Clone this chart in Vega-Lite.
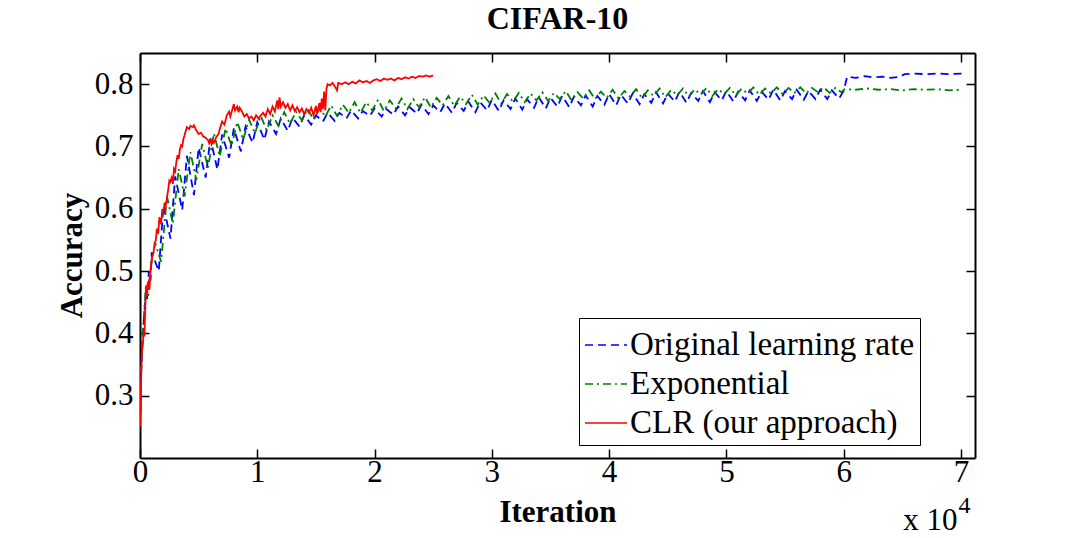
{
  "$schema": "https://vega.github.io/schema/vega-lite/v6.json",
  "autosize": {"type": "none"},
  "padding": {"left": 140, "top": 53, "right": 104, "bottom": 80},
  "width": 835,
  "height": 405,
  "title": {"text": "CIFAR-10", "font": "Liberation Serif", "fontSize": 32, "fontWeight": "bold", "color": "black", "anchor": "middle", "offset": 16},
  "config": {
    "view": {"stroke": null},
    "axis": {"domainColor": "black", "domainWidth": 2, "tickColor": "black", "tickWidth": 1.5, "tickSize": -9, "grid": false, "labelFlush": false,
      "labelFont": "Liberation Serif", "labelFontSize": 31, "labelColor": "black",
      "titleFont": "Liberation Serif", "titleFontSize": 31, "titleFontWeight": "bold", "titleColor": "black"}
  },
  "datasets": {
    "runs": [
      {"method": "Original learning rate", "iter": 0, "acc": 0.25},
      {"method": "Original learning rate", "iter": 100, "acc": 0.34},
      {"method": "Original learning rate", "iter": 250, "acc": 0.40},
      {"method": "Original learning rate", "iter": 400, "acc": 0.44},
      {"method": "Original learning rate", "iter": 500, "acc": 0.47},
      {"method": "Original learning rate", "iter": 600, "acc": 0.455},
      {"method": "Original learning rate", "iter": 750, "acc": 0.50},
      {"method": "Original learning rate", "iter": 900, "acc": 0.485},
      {"method": "Original learning rate", "iter": 1000, "acc": 0.530},
      {"method": "Original learning rate", "iter": 1600, "acc": 0.500},
      {"method": "Original learning rate", "iter": 2000, "acc": 0.605},
      {"method": "Original learning rate", "iter": 2600, "acc": 0.552},
      {"method": "Original learning rate", "iter": 3000, "acc": 0.652},
      {"method": "Original learning rate", "iter": 3600, "acc": 0.598},
      {"method": "Original learning rate", "iter": 4000, "acc": 0.685},
      {"method": "Original learning rate", "iter": 4600, "acc": 0.622},
      {"method": "Original learning rate", "iter": 5000, "acc": 0.698},
      {"method": "Original learning rate", "iter": 5600, "acc": 0.650},
      {"method": "Original learning rate", "iter": 6000, "acc": 0.713},
      {"method": "Original learning rate", "iter": 6600, "acc": 0.663},
      {"method": "Original learning rate", "iter": 7000, "acc": 0.719},
      {"method": "Original learning rate", "iter": 7600, "acc": 0.682},
      {"method": "Original learning rate", "iter": 8000, "acc": 0.729},
      {"method": "Original learning rate", "iter": 8600, "acc": 0.692},
      {"method": "Original learning rate", "iter": 9000, "acc": 0.732},
      {"method": "Original learning rate", "iter": 9600, "acc": 0.706},
      {"method": "Original learning rate", "iter": 10000, "acc": 0.739},
      {"method": "Original learning rate", "iter": 10600, "acc": 0.711},
      {"method": "Original learning rate", "iter": 11000, "acc": 0.740},
      {"method": "Original learning rate", "iter": 11600, "acc": 0.720},
      {"method": "Original learning rate", "iter": 12000, "acc": 0.745},
      {"method": "Original learning rate", "iter": 12600, "acc": 0.725},
      {"method": "Original learning rate", "iter": 13000, "acc": 0.746},
      {"method": "Original learning rate", "iter": 13600, "acc": 0.732},
      {"method": "Original learning rate", "iter": 14000, "acc": 0.750},
      {"method": "Original learning rate", "iter": 14600, "acc": 0.735},
      {"method": "Original learning rate", "iter": 15000, "acc": 0.750},
      {"method": "Original learning rate", "iter": 15600, "acc": 0.740},
      {"method": "Original learning rate", "iter": 16000, "acc": 0.754},
      {"method": "Original learning rate", "iter": 16600, "acc": 0.741},
      {"method": "Original learning rate", "iter": 17000, "acc": 0.754},
      {"method": "Original learning rate", "iter": 17600, "acc": 0.745},
      {"method": "Original learning rate", "iter": 18000, "acc": 0.758},
      {"method": "Original learning rate", "iter": 18600, "acc": 0.745},
      {"method": "Original learning rate", "iter": 19000, "acc": 0.757},
      {"method": "Original learning rate", "iter": 19600, "acc": 0.749},
      {"method": "Original learning rate", "iter": 20000, "acc": 0.761},
      {"method": "Original learning rate", "iter": 20600, "acc": 0.748},
      {"method": "Original learning rate", "iter": 21000, "acc": 0.760},
      {"method": "Original learning rate", "iter": 21600, "acc": 0.751},
      {"method": "Original learning rate", "iter": 22000, "acc": 0.764},
      {"method": "Original learning rate", "iter": 22600, "acc": 0.750},
      {"method": "Original learning rate", "iter": 23000, "acc": 0.763},
      {"method": "Original learning rate", "iter": 23600, "acc": 0.753},
      {"method": "Original learning rate", "iter": 24000, "acc": 0.767},
      {"method": "Original learning rate", "iter": 24600, "acc": 0.752},
      {"method": "Original learning rate", "iter": 25000, "acc": 0.766},
      {"method": "Original learning rate", "iter": 25600, "acc": 0.755},
      {"method": "Original learning rate", "iter": 26000, "acc": 0.769},
      {"method": "Original learning rate", "iter": 26600, "acc": 0.754},
      {"method": "Original learning rate", "iter": 27000, "acc": 0.770},
      {"method": "Original learning rate", "iter": 27600, "acc": 0.757},
      {"method": "Original learning rate", "iter": 28000, "acc": 0.772},
      {"method": "Original learning rate", "iter": 28600, "acc": 0.755},
      {"method": "Original learning rate", "iter": 29000, "acc": 0.771},
      {"method": "Original learning rate", "iter": 29600, "acc": 0.758},
      {"method": "Original learning rate", "iter": 30000, "acc": 0.775},
      {"method": "Original learning rate", "iter": 30600, "acc": 0.757},
      {"method": "Original learning rate", "iter": 31000, "acc": 0.774},
      {"method": "Original learning rate", "iter": 31600, "acc": 0.760},
      {"method": "Original learning rate", "iter": 32000, "acc": 0.777},
      {"method": "Original learning rate", "iter": 32600, "acc": 0.759},
      {"method": "Original learning rate", "iter": 33000, "acc": 0.776},
      {"method": "Original learning rate", "iter": 33600, "acc": 0.762},
      {"method": "Original learning rate", "iter": 34000, "acc": 0.779},
      {"method": "Original learning rate", "iter": 34600, "acc": 0.761},
      {"method": "Original learning rate", "iter": 35000, "acc": 0.778},
      {"method": "Original learning rate", "iter": 35600, "acc": 0.764},
      {"method": "Original learning rate", "iter": 36000, "acc": 0.781},
      {"method": "Original learning rate", "iter": 36600, "acc": 0.763},
      {"method": "Original learning rate", "iter": 37000, "acc": 0.780},
      {"method": "Original learning rate", "iter": 37600, "acc": 0.766},
      {"method": "Original learning rate", "iter": 38000, "acc": 0.782},
      {"method": "Original learning rate", "iter": 38600, "acc": 0.764},
      {"method": "Original learning rate", "iter": 39000, "acc": 0.781},
      {"method": "Original learning rate", "iter": 39600, "acc": 0.767},
      {"method": "Original learning rate", "iter": 40000, "acc": 0.784},
      {"method": "Original learning rate", "iter": 40600, "acc": 0.766},
      {"method": "Original learning rate", "iter": 41000, "acc": 0.783},
      {"method": "Original learning rate", "iter": 41600, "acc": 0.769},
      {"method": "Original learning rate", "iter": 42000, "acc": 0.785},
      {"method": "Original learning rate", "iter": 42600, "acc": 0.768},
      {"method": "Original learning rate", "iter": 43000, "acc": 0.784},
      {"method": "Original learning rate", "iter": 43600, "acc": 0.770},
      {"method": "Original learning rate", "iter": 44000, "acc": 0.787},
      {"method": "Original learning rate", "iter": 44600, "acc": 0.769},
      {"method": "Original learning rate", "iter": 45000, "acc": 0.785},
      {"method": "Original learning rate", "iter": 45600, "acc": 0.772},
      {"method": "Original learning rate", "iter": 46000, "acc": 0.788},
      {"method": "Original learning rate", "iter": 46600, "acc": 0.770},
      {"method": "Original learning rate", "iter": 47000, "acc": 0.786},
      {"method": "Original learning rate", "iter": 47600, "acc": 0.773},
      {"method": "Original learning rate", "iter": 48000, "acc": 0.789},
      {"method": "Original learning rate", "iter": 48600, "acc": 0.771},
      {"method": "Original learning rate", "iter": 49000, "acc": 0.787},
      {"method": "Original learning rate", "iter": 49600, "acc": 0.774},
      {"method": "Original learning rate", "iter": 50000, "acc": 0.789},
      {"method": "Original learning rate", "iter": 50600, "acc": 0.772},
      {"method": "Original learning rate", "iter": 51000, "acc": 0.788},
      {"method": "Original learning rate", "iter": 51600, "acc": 0.774},
      {"method": "Original learning rate", "iter": 52000, "acc": 0.790},
      {"method": "Original learning rate", "iter": 52600, "acc": 0.773},
      {"method": "Original learning rate", "iter": 53000, "acc": 0.788},
      {"method": "Original learning rate", "iter": 53600, "acc": 0.775},
      {"method": "Original learning rate", "iter": 54000, "acc": 0.791},
      {"method": "Original learning rate", "iter": 54600, "acc": 0.774},
      {"method": "Original learning rate", "iter": 55000, "acc": 0.789},
      {"method": "Original learning rate", "iter": 55600, "acc": 0.776},
      {"method": "Original learning rate", "iter": 56000, "acc": 0.791},
      {"method": "Original learning rate", "iter": 56600, "acc": 0.775},
      {"method": "Original learning rate", "iter": 57000, "acc": 0.789},
      {"method": "Original learning rate", "iter": 57600, "acc": 0.776},
      {"method": "Original learning rate", "iter": 58000, "acc": 0.791},
      {"method": "Original learning rate", "iter": 58600, "acc": 0.776},
      {"method": "Original learning rate", "iter": 59000, "acc": 0.790},
      {"method": "Original learning rate", "iter": 59600, "acc": 0.777},
      {"method": "Original learning rate", "iter": 60000, "acc": 0.789},
      {"method": "Original learning rate", "iter": 60300, "acc": 0.812},
      {"method": "Original learning rate", "iter": 61000, "acc": 0.810},
      {"method": "Original learning rate", "iter": 61800, "acc": 0.813},
      {"method": "Original learning rate", "iter": 62500, "acc": 0.811},
      {"method": "Original learning rate", "iter": 63300, "acc": 0.812},
      {"method": "Original learning rate", "iter": 64000, "acc": 0.810},
      {"method": "Original learning rate", "iter": 64800, "acc": 0.812},
      {"method": "Original learning rate", "iter": 65200, "acc": 0.816},
      {"method": "Original learning rate", "iter": 66000, "acc": 0.817},
      {"method": "Original learning rate", "iter": 67000, "acc": 0.816},
      {"method": "Original learning rate", "iter": 68000, "acc": 0.817},
      {"method": "Original learning rate", "iter": 69000, "acc": 0.816},
      {"method": "Original learning rate", "iter": 70100, "acc": 0.817},
      {"method": "Exponential", "iter": 0, "acc": 0.25},
      {"method": "Exponential", "iter": 100, "acc": 0.34},
      {"method": "Exponential", "iter": 250, "acc": 0.405},
      {"method": "Exponential", "iter": 500, "acc": 0.475},
      {"method": "Exponential", "iter": 700, "acc": 0.46},
      {"method": "Exponential", "iter": 900, "acc": 0.505},
      {"method": "Exponential", "iter": 1300, "acc": 0.545},
      {"method": "Exponential", "iter": 1800, "acc": 0.515},
      {"method": "Exponential", "iter": 2300, "acc": 0.620},
      {"method": "Exponential", "iter": 2800, "acc": 0.576},
      {"method": "Exponential", "iter": 3300, "acc": 0.664},
      {"method": "Exponential", "iter": 3800, "acc": 0.620},
      {"method": "Exponential", "iter": 4300, "acc": 0.691},
      {"method": "Exponential", "iter": 4800, "acc": 0.646},
      {"method": "Exponential", "iter": 5300, "acc": 0.704},
      {"method": "Exponential", "iter": 5800, "acc": 0.666},
      {"method": "Exponential", "iter": 6300, "acc": 0.721},
      {"method": "Exponential", "iter": 6800, "acc": 0.684},
      {"method": "Exponential", "iter": 7300, "acc": 0.729},
      {"method": "Exponential", "iter": 7800, "acc": 0.701},
      {"method": "Exponential", "iter": 8300, "acc": 0.739},
      {"method": "Exponential", "iter": 8800, "acc": 0.711},
      {"method": "Exponential", "iter": 9300, "acc": 0.743},
      {"method": "Exponential", "iter": 9800, "acc": 0.721},
      {"method": "Exponential", "iter": 10300, "acc": 0.749},
      {"method": "Exponential", "iter": 10800, "acc": 0.726},
      {"method": "Exponential", "iter": 11300, "acc": 0.750},
      {"method": "Exponential", "iter": 11800, "acc": 0.733},
      {"method": "Exponential", "iter": 12300, "acc": 0.755},
      {"method": "Exponential", "iter": 12800, "acc": 0.736},
      {"method": "Exponential", "iter": 13300, "acc": 0.756},
      {"method": "Exponential", "iter": 13800, "acc": 0.742},
      {"method": "Exponential", "iter": 14300, "acc": 0.760},
      {"method": "Exponential", "iter": 14800, "acc": 0.743},
      {"method": "Exponential", "iter": 15300, "acc": 0.761},
      {"method": "Exponential", "iter": 15800, "acc": 0.748},
      {"method": "Exponential", "iter": 16300, "acc": 0.766},
      {"method": "Exponential", "iter": 16800, "acc": 0.749},
      {"method": "Exponential", "iter": 17300, "acc": 0.767},
      {"method": "Exponential", "iter": 17800, "acc": 0.754},
      {"method": "Exponential", "iter": 18300, "acc": 0.771},
      {"method": "Exponential", "iter": 18800, "acc": 0.754},
      {"method": "Exponential", "iter": 19300, "acc": 0.771},
      {"method": "Exponential", "iter": 19800, "acc": 0.758},
      {"method": "Exponential", "iter": 20300, "acc": 0.775},
      {"method": "Exponential", "iter": 20800, "acc": 0.757},
      {"method": "Exponential", "iter": 21300, "acc": 0.774},
      {"method": "Exponential", "iter": 21800, "acc": 0.761},
      {"method": "Exponential", "iter": 22300, "acc": 0.777},
      {"method": "Exponential", "iter": 22800, "acc": 0.760},
      {"method": "Exponential", "iter": 23300, "acc": 0.776},
      {"method": "Exponential", "iter": 23800, "acc": 0.763},
      {"method": "Exponential", "iter": 24300, "acc": 0.779},
      {"method": "Exponential", "iter": 24800, "acc": 0.763},
      {"method": "Exponential", "iter": 25300, "acc": 0.778},
      {"method": "Exponential", "iter": 25800, "acc": 0.766},
      {"method": "Exponential", "iter": 26300, "acc": 0.781},
      {"method": "Exponential", "iter": 26800, "acc": 0.765},
      {"method": "Exponential", "iter": 27300, "acc": 0.780},
      {"method": "Exponential", "iter": 27800, "acc": 0.768},
      {"method": "Exponential", "iter": 28300, "acc": 0.783},
      {"method": "Exponential", "iter": 28800, "acc": 0.767},
      {"method": "Exponential", "iter": 29300, "acc": 0.782},
      {"method": "Exponential", "iter": 29800, "acc": 0.770},
      {"method": "Exponential", "iter": 30300, "acc": 0.785},
      {"method": "Exponential", "iter": 30800, "acc": 0.769},
      {"method": "Exponential", "iter": 31300, "acc": 0.784},
      {"method": "Exponential", "iter": 31800, "acc": 0.772},
      {"method": "Exponential", "iter": 32300, "acc": 0.786},
      {"method": "Exponential", "iter": 32800, "acc": 0.771},
      {"method": "Exponential", "iter": 33300, "acc": 0.785},
      {"method": "Exponential", "iter": 33800, "acc": 0.774},
      {"method": "Exponential", "iter": 34300, "acc": 0.787},
      {"method": "Exponential", "iter": 34800, "acc": 0.773},
      {"method": "Exponential", "iter": 35300, "acc": 0.786},
      {"method": "Exponential", "iter": 35800, "acc": 0.776},
      {"method": "Exponential", "iter": 36300, "acc": 0.789},
      {"method": "Exponential", "iter": 36800, "acc": 0.774},
      {"method": "Exponential", "iter": 37300, "acc": 0.787},
      {"method": "Exponential", "iter": 37800, "acc": 0.777},
      {"method": "Exponential", "iter": 38300, "acc": 0.790},
      {"method": "Exponential", "iter": 38800, "acc": 0.776},
      {"method": "Exponential", "iter": 39300, "acc": 0.788},
      {"method": "Exponential", "iter": 39800, "acc": 0.778},
      {"method": "Exponential", "iter": 40300, "acc": 0.791},
      {"method": "Exponential", "iter": 40800, "acc": 0.777},
      {"method": "Exponential", "iter": 41300, "acc": 0.789},
      {"method": "Exponential", "iter": 41800, "acc": 0.780},
      {"method": "Exponential", "iter": 42300, "acc": 0.792},
      {"method": "Exponential", "iter": 42800, "acc": 0.778},
      {"method": "Exponential", "iter": 43300, "acc": 0.790},
      {"method": "Exponential", "iter": 43800, "acc": 0.781},
      {"method": "Exponential", "iter": 44300, "acc": 0.793},
      {"method": "Exponential", "iter": 44800, "acc": 0.779},
      {"method": "Exponential", "iter": 45300, "acc": 0.791},
      {"method": "Exponential", "iter": 45800, "acc": 0.782},
      {"method": "Exponential", "iter": 46300, "acc": 0.793},
      {"method": "Exponential", "iter": 46800, "acc": 0.780},
      {"method": "Exponential", "iter": 47300, "acc": 0.792},
      {"method": "Exponential", "iter": 47800, "acc": 0.783},
      {"method": "Exponential", "iter": 48300, "acc": 0.794},
      {"method": "Exponential", "iter": 48800, "acc": 0.781},
      {"method": "Exponential", "iter": 49300, "acc": 0.792},
      {"method": "Exponential", "iter": 49800, "acc": 0.784},
      {"method": "Exponential", "iter": 50300, "acc": 0.794},
      {"method": "Exponential", "iter": 50800, "acc": 0.782},
      {"method": "Exponential", "iter": 51300, "acc": 0.793},
      {"method": "Exponential", "iter": 51800, "acc": 0.785},
      {"method": "Exponential", "iter": 52300, "acc": 0.795},
      {"method": "Exponential", "iter": 52800, "acc": 0.783},
      {"method": "Exponential", "iter": 53300, "acc": 0.793},
      {"method": "Exponential", "iter": 53800, "acc": 0.785},
      {"method": "Exponential", "iter": 54300, "acc": 0.795},
      {"method": "Exponential", "iter": 54800, "acc": 0.784},
      {"method": "Exponential", "iter": 55300, "acc": 0.794},
      {"method": "Exponential", "iter": 55800, "acc": 0.786},
      {"method": "Exponential", "iter": 56300, "acc": 0.795},
      {"method": "Exponential", "iter": 56800, "acc": 0.785},
      {"method": "Exponential", "iter": 57300, "acc": 0.794},
      {"method": "Exponential", "iter": 57800, "acc": 0.787},
      {"method": "Exponential", "iter": 58300, "acc": 0.795},
      {"method": "Exponential", "iter": 58800, "acc": 0.786},
      {"method": "Exponential", "iter": 59300, "acc": 0.794},
      {"method": "Exponential", "iter": 59800, "acc": 0.787},
      {"method": "Exponential", "iter": 60100, "acc": 0.792},
      {"method": "Exponential", "iter": 61000, "acc": 0.791},
      {"method": "Exponential", "iter": 62000, "acc": 0.793},
      {"method": "Exponential", "iter": 63000, "acc": 0.791},
      {"method": "Exponential", "iter": 64000, "acc": 0.792},
      {"method": "Exponential", "iter": 65000, "acc": 0.790},
      {"method": "Exponential", "iter": 66000, "acc": 0.792},
      {"method": "Exponential", "iter": 67000, "acc": 0.791},
      {"method": "Exponential", "iter": 68000, "acc": 0.792},
      {"method": "Exponential", "iter": 69000, "acc": 0.790},
      {"method": "Exponential", "iter": 70100, "acc": 0.791},
      {"method": "CLR (our approach)", "iter": 0, "acc": 0.25},
      {"method": "CLR (our approach)", "iter": 100, "acc": 0.33},
      {"method": "CLR (our approach)", "iter": 160, "acc": 0.37},
      {"method": "CLR (our approach)", "iter": 250, "acc": 0.385},
      {"method": "CLR (our approach)", "iter": 300, "acc": 0.40},
      {"method": "CLR (our approach)", "iter": 380, "acc": 0.395},
      {"method": "CLR (our approach)", "iter": 440, "acc": 0.435},
      {"method": "CLR (our approach)", "iter": 530, "acc": 0.477},
      {"method": "CLR (our approach)", "iter": 600, "acc": 0.46},
      {"method": "CLR (our approach)", "iter": 650, "acc": 0.48},
      {"method": "CLR (our approach)", "iter": 720, "acc": 0.483},
      {"method": "CLR (our approach)", "iter": 800, "acc": 0.47},
      {"method": "CLR (our approach)", "iter": 930, "acc": 0.51},
      {"method": "CLR (our approach)", "iter": 1000, "acc": 0.52},
      {"method": "CLR (our approach)", "iter": 1150, "acc": 0.53},
      {"method": "CLR (our approach)", "iter": 1250, "acc": 0.545},
      {"method": "CLR (our approach)", "iter": 1350, "acc": 0.55},
      {"method": "CLR (our approach)", "iter": 1440, "acc": 0.568},
      {"method": "CLR (our approach)", "iter": 1550, "acc": 0.56},
      {"method": "CLR (our approach)", "iter": 1650, "acc": 0.585},
      {"method": "CLR (our approach)", "iter": 1720, "acc": 0.584},
      {"method": "CLR (our approach)", "iter": 1800, "acc": 0.575},
      {"method": "CLR (our approach)", "iter": 1900, "acc": 0.60},
      {"method": "CLR (our approach)", "iter": 2000, "acc": 0.595},
      {"method": "CLR (our approach)", "iter": 2100, "acc": 0.61},
      {"method": "CLR (our approach)", "iter": 2200, "acc": 0.605},
      {"method": "CLR (our approach)", "iter": 2290, "acc": 0.616},
      {"method": "CLR (our approach)", "iter": 2400, "acc": 0.63},
      {"method": "CLR (our approach)", "iter": 2500, "acc": 0.645},
      {"method": "CLR (our approach)", "iter": 2570, "acc": 0.643},
      {"method": "CLR (our approach)", "iter": 2700, "acc": 0.65},
      {"method": "CLR (our approach)", "iter": 2800, "acc": 0.64},
      {"method": "CLR (our approach)", "iter": 2900, "acc": 0.664},
      {"method": "CLR (our approach)", "iter": 3000, "acc": 0.66},
      {"method": "CLR (our approach)", "iter": 3100, "acc": 0.675},
      {"method": "CLR (our approach)", "iter": 3200, "acc": 0.686},
      {"method": "CLR (our approach)", "iter": 3300, "acc": 0.68},
      {"method": "CLR (our approach)", "iter": 3400, "acc": 0.695},
      {"method": "CLR (our approach)", "iter": 3500, "acc": 0.702},
      {"method": "CLR (our approach)", "iter": 3600, "acc": 0.70},
      {"method": "CLR (our approach)", "iter": 3700, "acc": 0.712},
      {"method": "CLR (our approach)", "iter": 3800, "acc": 0.718},
      {"method": "CLR (our approach)", "iter": 3900, "acc": 0.725},
      {"method": "CLR (our approach)", "iter": 4000, "acc": 0.731},
      {"method": "CLR (our approach)", "iter": 4200, "acc": 0.728},
      {"method": "CLR (our approach)", "iter": 4300, "acc": 0.733},
      {"method": "CLR (our approach)", "iter": 4500, "acc": 0.731},
      {"method": "CLR (our approach)", "iter": 4600, "acc": 0.734},
      {"method": "CLR (our approach)", "iter": 4700, "acc": 0.73},
      {"method": "CLR (our approach)", "iter": 4800, "acc": 0.726},
      {"method": "CLR (our approach)", "iter": 5000, "acc": 0.72},
      {"method": "CLR (our approach)", "iter": 5200, "acc": 0.722},
      {"method": "CLR (our approach)", "iter": 5400, "acc": 0.716},
      {"method": "CLR (our approach)", "iter": 5600, "acc": 0.714},
      {"method": "CLR (our approach)", "iter": 5800, "acc": 0.71},
      {"method": "CLR (our approach)", "iter": 5900, "acc": 0.705},
      {"method": "CLR (our approach)", "iter": 6000, "acc": 0.712},
      {"method": "CLR (our approach)", "iter": 6100, "acc": 0.704},
      {"method": "CLR (our approach)", "iter": 6200, "acc": 0.71},
      {"method": "CLR (our approach)", "iter": 6300, "acc": 0.706},
      {"method": "CLR (our approach)", "iter": 6500, "acc": 0.715},
      {"method": "CLR (our approach)", "iter": 6700, "acc": 0.72},
      {"method": "CLR (our approach)", "iter": 6800, "acc": 0.728},
      {"method": "CLR (our approach)", "iter": 7000, "acc": 0.74},
      {"method": "CLR (our approach)", "iter": 7200, "acc": 0.735},
      {"method": "CLR (our approach)", "iter": 7400, "acc": 0.75},
      {"method": "CLR (our approach)", "iter": 7600, "acc": 0.756},
      {"method": "CLR (our approach)", "iter": 7700, "acc": 0.748},
      {"method": "CLR (our approach)", "iter": 7900, "acc": 0.761},
      {"method": "CLR (our approach)", "iter": 8000, "acc": 0.768},
      {"method": "CLR (our approach)", "iter": 8100, "acc": 0.758},
      {"method": "CLR (our approach)", "iter": 8300, "acc": 0.764},
      {"method": "CLR (our approach)", "iter": 8400, "acc": 0.755},
      {"method": "CLR (our approach)", "iter": 8500, "acc": 0.762},
      {"method": "CLR (our approach)", "iter": 8700, "acc": 0.756},
      {"method": "CLR (our approach)", "iter": 8900, "acc": 0.748},
      {"method": "CLR (our approach)", "iter": 9100, "acc": 0.752},
      {"method": "CLR (our approach)", "iter": 9300, "acc": 0.745},
      {"method": "CLR (our approach)", "iter": 9500, "acc": 0.748},
      {"method": "CLR (our approach)", "iter": 9700, "acc": 0.742},
      {"method": "CLR (our approach)", "iter": 9900, "acc": 0.75},
      {"method": "CLR (our approach)", "iter": 10100, "acc": 0.745},
      {"method": "CLR (our approach)", "iter": 10300, "acc": 0.75},
      {"method": "CLR (our approach)", "iter": 10500, "acc": 0.754},
      {"method": "CLR (our approach)", "iter": 10700, "acc": 0.748},
      {"method": "CLR (our approach)", "iter": 10900, "acc": 0.76},
      {"method": "CLR (our approach)", "iter": 11100, "acc": 0.752},
      {"method": "CLR (our approach)", "iter": 11300, "acc": 0.764},
      {"method": "CLR (our approach)", "iter": 11500, "acc": 0.756},
      {"method": "CLR (our approach)", "iter": 11700, "acc": 0.774},
      {"method": "CLR (our approach)", "iter": 11800, "acc": 0.76},
      {"method": "CLR (our approach)", "iter": 11900, "acc": 0.779},
      {"method": "CLR (our approach)", "iter": 12000, "acc": 0.764},
      {"method": "CLR (our approach)", "iter": 12200, "acc": 0.771},
      {"method": "CLR (our approach)", "iter": 12400, "acc": 0.762},
      {"method": "CLR (our approach)", "iter": 12600, "acc": 0.768},
      {"method": "CLR (our approach)", "iter": 12800, "acc": 0.758},
      {"method": "CLR (our approach)", "iter": 13000, "acc": 0.766},
      {"method": "CLR (our approach)", "iter": 13200, "acc": 0.757},
      {"method": "CLR (our approach)", "iter": 13400, "acc": 0.763},
      {"method": "CLR (our approach)", "iter": 13600, "acc": 0.755},
      {"method": "CLR (our approach)", "iter": 13800, "acc": 0.761},
      {"method": "CLR (our approach)", "iter": 14000, "acc": 0.752},
      {"method": "CLR (our approach)", "iter": 14200, "acc": 0.76},
      {"method": "CLR (our approach)", "iter": 14400, "acc": 0.754},
      {"method": "CLR (our approach)", "iter": 14600, "acc": 0.762},
      {"method": "CLR (our approach)", "iter": 14800, "acc": 0.75},
      {"method": "CLR (our approach)", "iter": 15000, "acc": 0.765},
      {"method": "CLR (our approach)", "iter": 15100, "acc": 0.752},
      {"method": "CLR (our approach)", "iter": 15300, "acc": 0.77},
      {"method": "CLR (our approach)", "iter": 15400, "acc": 0.755},
      {"method": "CLR (our approach)", "iter": 15500, "acc": 0.777},
      {"method": "CLR (our approach)", "iter": 15600, "acc": 0.76},
      {"method": "CLR (our approach)", "iter": 15700, "acc": 0.788},
      {"method": "CLR (our approach)", "iter": 15800, "acc": 0.758},
      {"method": "CLR (our approach)", "iter": 15900, "acc": 0.793},
      {"method": "CLR (our approach)", "iter": 16000, "acc": 0.80},
      {"method": "CLR (our approach)", "iter": 16200, "acc": 0.798},
      {"method": "CLR (our approach)", "iter": 16400, "acc": 0.802},
      {"method": "CLR (our approach)", "iter": 16600, "acc": 0.797},
      {"method": "CLR (our approach)", "iter": 16800, "acc": 0.79},
      {"method": "CLR (our approach)", "iter": 16900, "acc": 0.802},
      {"method": "CLR (our approach)", "iter": 17200, "acc": 0.80},
      {"method": "CLR (our approach)", "iter": 17500, "acc": 0.803},
      {"method": "CLR (our approach)", "iter": 17800, "acc": 0.80},
      {"method": "CLR (our approach)", "iter": 18100, "acc": 0.804},
      {"method": "CLR (our approach)", "iter": 18400, "acc": 0.801},
      {"method": "CLR (our approach)", "iter": 18700, "acc": 0.806},
      {"method": "CLR (our approach)", "iter": 19000, "acc": 0.803},
      {"method": "CLR (our approach)", "iter": 19300, "acc": 0.805},
      {"method": "CLR (our approach)", "iter": 19600, "acc": 0.802},
      {"method": "CLR (our approach)", "iter": 19900, "acc": 0.806},
      {"method": "CLR (our approach)", "iter": 20200, "acc": 0.808},
      {"method": "CLR (our approach)", "iter": 20500, "acc": 0.805},
      {"method": "CLR (our approach)", "iter": 20800, "acc": 0.809},
      {"method": "CLR (our approach)", "iter": 21100, "acc": 0.807},
      {"method": "CLR (our approach)", "iter": 21400, "acc": 0.809},
      {"method": "CLR (our approach)", "iter": 21700, "acc": 0.806},
      {"method": "CLR (our approach)", "iter": 22000, "acc": 0.81},
      {"method": "CLR (our approach)", "iter": 22300, "acc": 0.808},
      {"method": "CLR (our approach)", "iter": 22600, "acc": 0.811},
      {"method": "CLR (our approach)", "iter": 22900, "acc": 0.809},
      {"method": "CLR (our approach)", "iter": 23200, "acc": 0.812},
      {"method": "CLR (our approach)", "iter": 23500, "acc": 0.81},
      {"method": "CLR (our approach)", "iter": 23800, "acc": 0.813},
      {"method": "CLR (our approach)", "iter": 24100, "acc": 0.812},
      {"method": "CLR (our approach)", "iter": 24400, "acc": 0.814},
      {"method": "CLR (our approach)", "iter": 24700, "acc": 0.812},
      {"method": "CLR (our approach)", "iter": 25000, "acc": 0.814}
    ],
    "frame": [{"iter": 0, "acc": 0.2}]
  },
  "resolve": {"axis": {"x": "independent", "y": "independent"}},
  "layer": [
    {
      "data": {"name": "runs"},
      "mark": {"type": "line", "strokeWidth": 1.8, "clip": true},
      "encoding": {
        "x": {"field": "iter", "type": "quantitative",
          "scale": {"domain": [0, 71200], "nice": false, "zero": false},
          "axis": {"values": [0, 10000, 20000, 30000, 40000, 50000, 60000, 70000], "labelExpr": "datum.value / 10000", "labelPadding": 8,
            "title": "Iteration", "titleY": 63, "titleBaseline": "alphabetic"}},
        "y": {"field": "acc", "type": "quantitative",
          "scale": {"domain": [0.2, 0.85], "nice": false, "zero": false},
          "axis": {"values": [0.3, 0.4, 0.5, 0.6, 0.7, 0.8], "format": ".1f", "labelPadding": 16,
            "title": "Accuracy", "titleX": -68, "titleY": 202, "titleAlign": "center", "titleBaseline": "middle", "titleAngle": 270}},
        "color": {"field": "method", "type": "nominal",
          "scale": {"domain": ["Original learning rate", "Exponential", "CLR (our approach)"], "range": ["#0000ff", "#008000", "#ff0000"]},
          "legend": {"title": null, "orient": "none", "legendX": 439, "legendY": 265, "strokeColor": "black", "fillColor": "white", "padding": 5,
            "symbolType": "stroke", "symbolSize": 1764, "symbolStrokeWidth": 1.5, "labelFont": "Liberation Serif", "labelFontSize": 33, "labelColor": "black", "labelOffset": 2, "rowPadding": -1, "labelLimit": 400}},
        "strokeDash": {"field": "method", "type": "nominal",
          "scale": {"domain": ["Original learning rate", "Exponential", "CLR (our approach)"], "range": [[8, 5], [8, 4, 2, 4], [1, 0]]},
          "legend": {"title": null, "orient": "none", "legendX": 439, "legendY": 265, "strokeColor": "black", "fillColor": "white", "padding": 5,
            "symbolType": "stroke", "symbolSize": 1764, "symbolStrokeWidth": 1.5, "labelFont": "Liberation Serif", "labelFontSize": 33, "labelColor": "black", "labelOffset": 2, "rowPadding": -1, "labelLimit": 400}}
      }
    },
    {
      "data": {"name": "frame"},
      "mark": {"type": "point", "opacity": 0},
      "encoding": {
        "x": {"field": "iter", "type": "quantitative",
          "scale": {"domain": [0, 71200], "nice": false, "zero": false},
          "axis": {"orient": "top", "values": [0, 10000, 20000, 30000, 40000, 50000, 60000, 70000], "labels": false, "title": null}},
        "y": {"field": "acc", "type": "quantitative",
          "scale": {"domain": [0.2, 0.85], "nice": false, "zero": false},
          "axis": {"orient": "right", "values": [0.3, 0.4, 0.5, 0.6, 0.7, 0.8], "labels": false, "title": null}}
      }
    },
    {
      "data": {"name": "frame"},
      "mark": {"type": "point", "opacity": 0},
      "encoding": {
        "x": {"field": "iter", "type": "quantitative",
          "scale": {"domain": [0, 71200], "nice": false, "zero": false},
          "axis": {"orient": "bottom", "domain": false, "ticks": false, "labels": false,
            "title": "x 10", "titleFontWeight": "normal", "titleFontSize": 31, "titleX": 817, "titleY": 71, "titleAlign": "right", "titleBaseline": "alphabetic"}},
        "y": {"field": "acc", "type": "quantitative", "axis": null}
      }
    },
    {
      "data": {"name": "frame"},
      "mark": {"type": "point", "opacity": 0},
      "encoding": {
        "x": {"field": "iter", "type": "quantitative",
          "scale": {"domain": [0, 71200], "nice": false, "zero": false},
          "axis": {"orient": "bottom", "domain": false, "ticks": false, "labels": false,
            "title": "4", "titleFontWeight": "normal", "titleFontSize": 24, "titleX": 830, "titleY": 54, "titleAlign": "right", "titleBaseline": "alphabetic"}},
        "y": {"field": "acc", "type": "quantitative", "axis": null}
      }
    }
  ]
}
